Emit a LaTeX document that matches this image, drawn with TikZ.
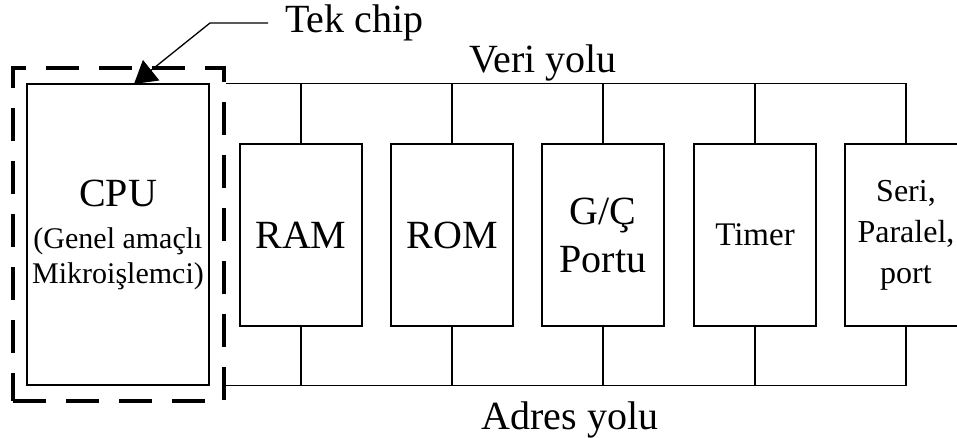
\documentclass[tikz,border=0pt]{standalone}
\usepackage{fontspec}
\setmainfont{Liberation Serif}
\usetikzlibrary{arrows.meta}
\begin{document}
\begin{tikzpicture}[x=1pt,y=-1pt,
  box/.style={draw,line width=1.3pt,minimum width=122pt,minimum height=182pt,inner sep=0pt,align=center,font=\fontsize{40}{48}\selectfont},
  bus/.style={line width=1.3pt},
  lbl/.style={font=\fontsize{40}{48}\selectfont,inner sep=0pt}]
\useasboundingbox (0,0) rectangle (957,438);
% CPU
\node[draw,line width=1.3pt,minimum width=182pt,minimum height=301pt,inner sep=0pt,align=center,font=\fontsize{30}{35}\selectfont] (cpu) at (118,234.5)
  {{\fontsize{40}{40}\selectfont CPU}\\[7pt](Genel amaçlı\\Mikroişlemci)};
% single chip dashed boundary
\node[draw,line width=4.5pt,dash pattern=on 33pt off 20pt,minimum width=211pt,minimum height=333pt,inner sep=0pt] (chip) at (118.5,234.5) {};
% modules
\node[box] (ram) at (301,235) {RAM};
\node[box] (rom) at (452,235) {ROM};
\node[box] (gc) at (603,235) {G/Ç\\Portu};
\node[box,font=\fontsize{33}{38}\selectfont] (timer) at (755,235) {Timer};
\node[box,font=\fontsize{32}{41}\selectfont] (seri) at (906,235) {Seri,\\Paralel,\\port};
% data bus
\draw[bus] (chip.east |- cpu.north) -- (seri.north |- cpu.north) -- (seri.north);
\foreach \n in {ram,rom,gc,timer} \draw[bus] (\n.north) -- (\n.north |- cpu.north);
% address bus
\draw[bus] (chip.east |- cpu.south) -- (seri.south |- cpu.south) -- (seri.south);
\foreach \n in {ram,rom,gc,timer} \draw[bus] (\n.south) -- (\n.south |- cpu.south);
% labels
\node[lbl] (veri) at (543,63) {Veri yolu};
\node[lbl] (adres) at (570,420) {Adres yolu};
\node[lbl,anchor=west,inner xsep=17pt] (tek) at (268,23) {Tek chip};
\coordinate (bend) at (210,23);
\coordinate (tip) at (134,84);
\draw[bus,-{Triangle[length=22pt,width=26pt]}] (tek.west) -- (bend) -- (tip);
\end{tikzpicture}
\end{document}
